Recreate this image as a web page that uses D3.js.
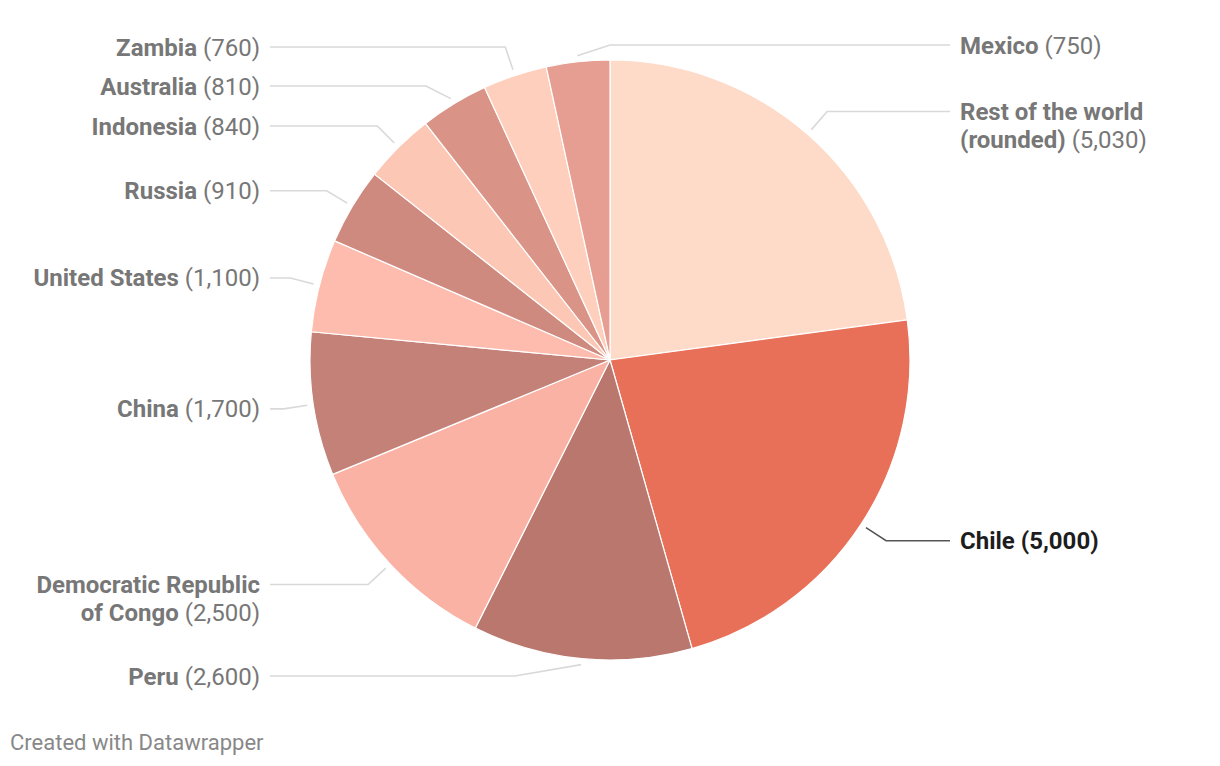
<!DOCTYPE html>
<html><head><meta charset="utf-8">
<script src="https://cdn.jsdelivr.net/npm/d3@7"></script>
<style>
html,body{margin:0;padding:0;background:#fff;}
svg text{font-family:Roboto,"Noto Sans",sans-serif;}
</style></head>
<body>
<svg id="chart" width="1220" height="766"></svg>
<script>
const countries = ["Rest of the world (rounded)","Chile","Peru","Democratic Republic of Congo","China","United States","Russia","Indonesia","Australia","Zambia","Mexico"];
const labelLines = [["Rest of the world","(rounded)"],["Chile"],["Peru"],["Democratic Republic","of Congo"],["China"],["United States"],["Russia"],["Indonesia"],["Australia"],["Zambia"],["Mexico"]];
const values = [5030,5000,2600,2500,1700,1100,910,840,810,760,750];
const colors = ["#fedbc8","#e87058","#b9776e","#f9b2a4","#c48178","#fdbcad","#cf8a80","#fdc7b6","#d99387","#fecfbd","#e69e92"];
const highlighted = ["Chile"];
const footer = "Created with Datawrapper";

const svg = d3.select("#chart");
const cx = 610, cy = 360, r = 300;
const fmt = d3.format(",");
const g = svg.append("g").attr("transform", `translate(${cx},${cy})`);

const pie = d3.pie().sort(null).value(d => d.v);
const data = countries.map((c,i)=>({name:c, lines:labelLines[i], v:values[i], color:colors[i]}));
const arcs = pie(data);
const arc = d3.arc().innerRadius(0).outerRadius(r);

g.selectAll("path.slice").data(arcs).join("path")
  .attr("class","slice")
  .attr("d", arc)
  .attr("fill", d => d.data.color)
  .attr("stroke","#fff").attr("stroke-width",1.2);

// label layout
const rStart = r + 6, rElbow = r + 30;
const lineH = 28, gap = 11, minY = 45 - cy, maxY = 676 - cy;
arcs.forEach(a => {
  a.mid = (a.startAngle + a.endAngle)/2;
  let deg = a.mid*180/Math.PI;
  a.side = (deg < 180 || deg > 350) ? 1 : -1;
  a.natY = -rElbow*Math.cos(a.mid);
  a.h = (a.data.lines.length-1)*lineH;
});
[1,-1].forEach(side => {
  const L = arcs.filter(a=>a.side===side).sort((a,b)=>a.natY-b.natY);
  L.forEach(a => a.y = Math.max(minY, Math.min(maxY, a.natY)));
  for (let i=1;i<L.length;i++){
    const need = L[i-1].y + L[i-1].h + lineH + gap;
    if (L[i].y < need) L[i].y = need;
  }
  for (let i=L.length-2;i>=0;i--){
    const lim = L[i+1].y - L[i].h - lineH - gap;
    if (L[i].y > lim) L[i].y = lim;
  }
});

arcs.forEach(a => {
  const hi = highlighted.includes(a.data.name);
  const sx = rStart*Math.sin(a.mid), sy = -rStart*Math.cos(a.mid);
  let ey = a.y;
  let ex;
  if (Math.abs(a.y - a.natY) < 1.5) {
    ex = rElbow*Math.sin(a.mid);
  } else {
    const k = Math.sqrt(Math.max(0, rElbow*rElbow - ey*ey));
    ex = Math.sin(a.mid) >= 0 ? k : -k;
    ex = a.side === 1 ? Math.max(0, ex) : Math.min(0, ex);
  }
  const lx = a.side*340;
  g.append("path")
    .attr("d", d3.line()([[sx,sy],[ex,ey],[lx,ey]]))
    .attr("fill","none")
    .attr("stroke", hi ? "#555" : "#d9d9d9")
    .attr("stroke-width", 1.6);

  const tx = a.side*350;
  const t = g.append("text")
    .attr("x", tx).attr("y", ey + 8.5)
    .attr("text-anchor", a.side===1 ? "start" : "end")
    .attr("font-size", 24)
    .attr("fill", hi ? "#1d1d1d" : "#777");
  const n = a.data.lines.length;
  a.data.lines.forEach((ln,i) => {
    const ts = t.append("tspan").attr("x", tx).attr("dy", i===0?0:lineH);
    ts.append("tspan").attr("font-weight",700).text(ln);
    if (i === n-1) {
      ts.append("tspan").attr("font-weight", hi?700:400).text(" (" + fmt(a.data.v) + ")");
    }
  });
});

svg.append("text").attr("x",10).attr("y",750)
  .attr("font-size",22).attr("fill","#888").text(footer);
</script>
</body></html>
